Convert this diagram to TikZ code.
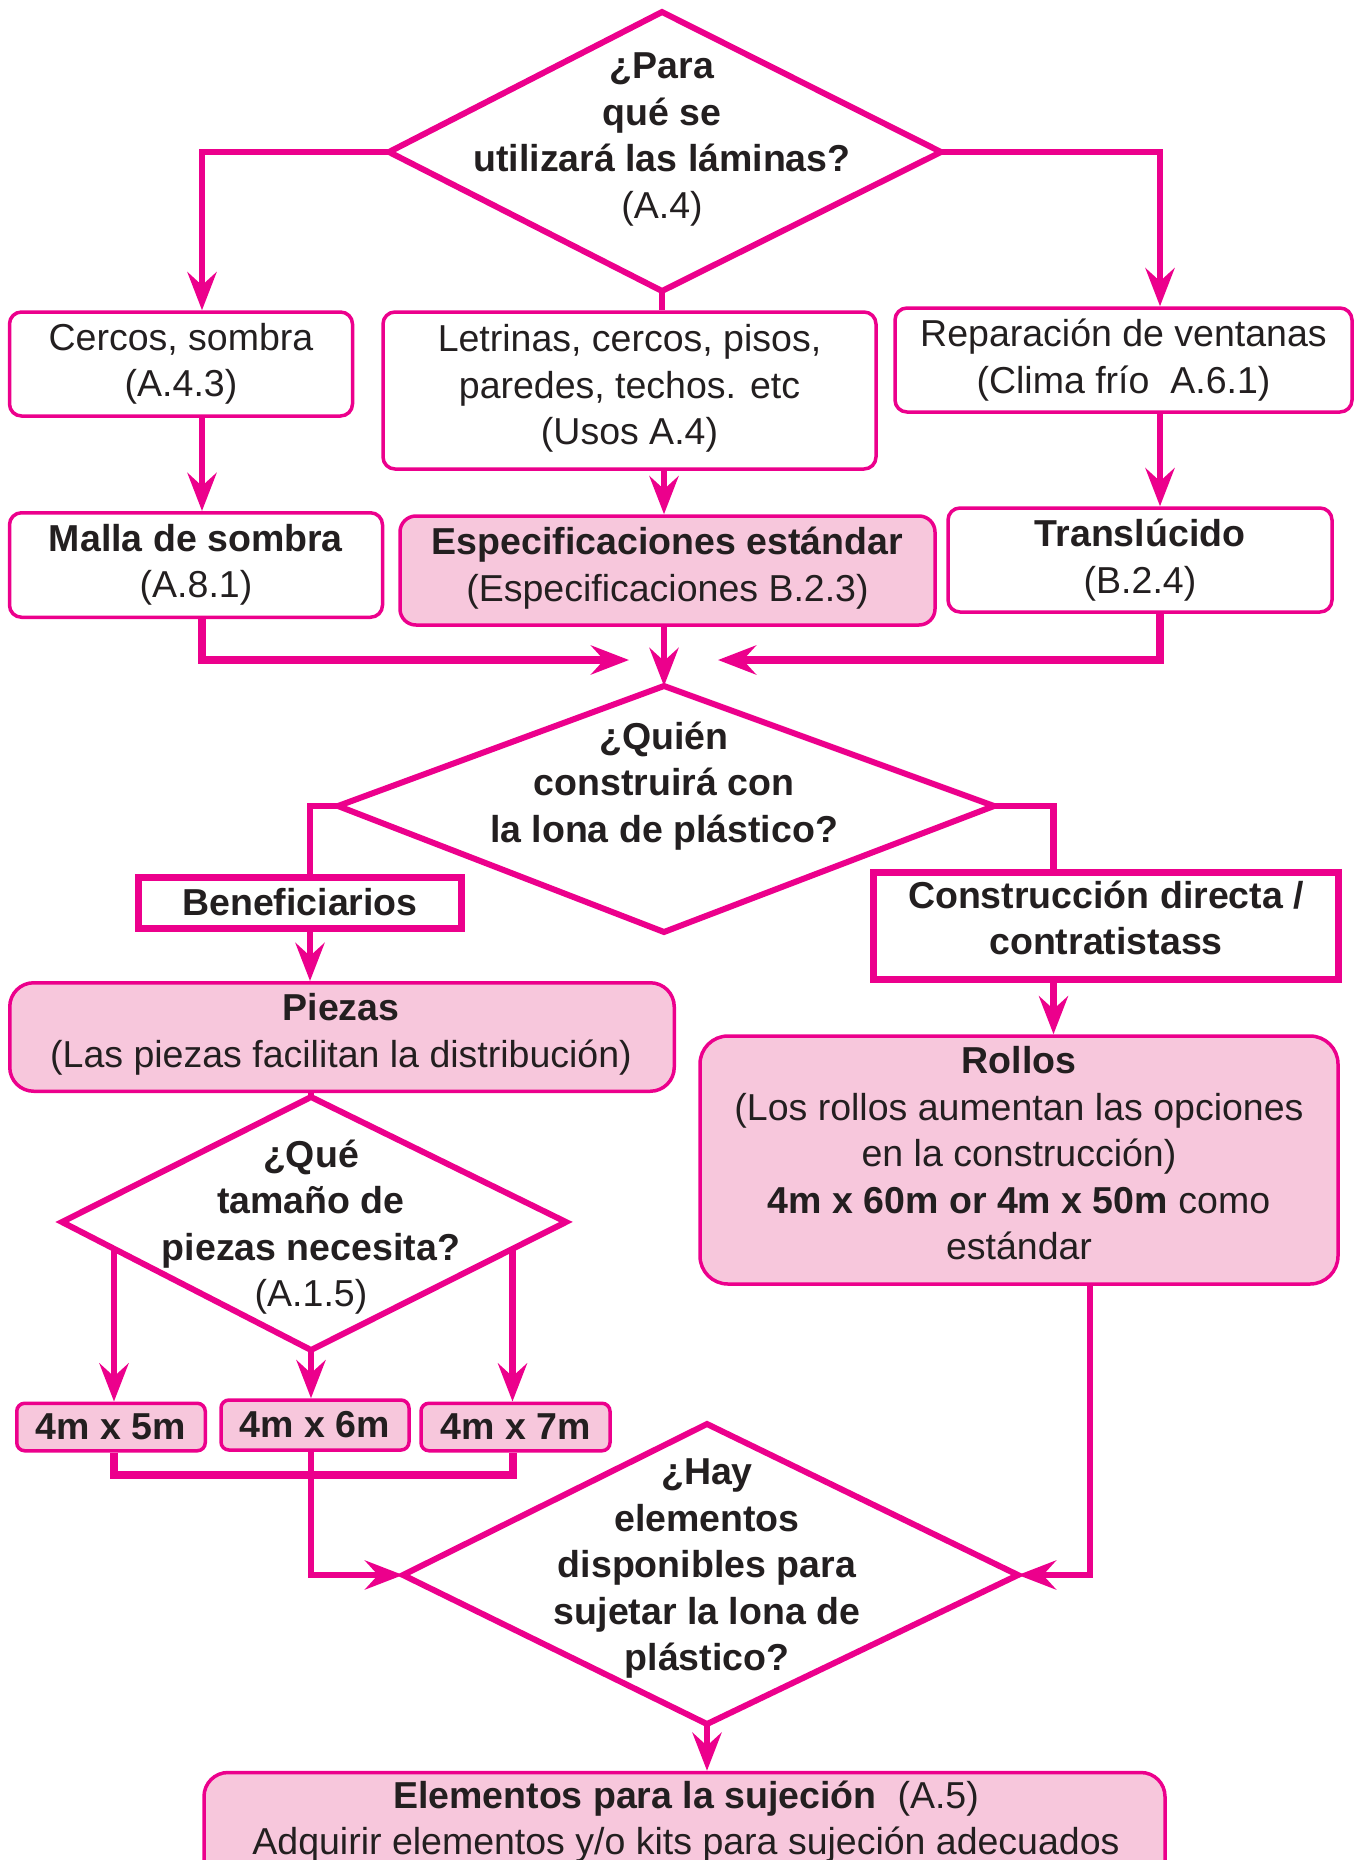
\documentclass[tikz,border=0pt]{standalone}
\usepackage{fontspec}
\setmainfont{Liberation Sans}
\usetikzlibrary{arrows.meta}
\definecolor{mag}{HTML}{EC008C}
\definecolor{pinkfill}{HTML}{F7C7DC}
\definecolor{ink}{HTML}{231F20}
\begin{document}
\begin{tikzpicture}[x=1pt,y=-1pt,
  every node/.style={font=\fontsize{37.5}{46.5}\selectfont, text=ink, align=center, inner sep=0pt},
  wbox/.style={draw=mag, line width=3.5pt, rounded corners=12pt, fill=white},
  pbox/.style={draw=mag, line width=3.5pt, rounded corners=16pt, fill=pinkfill},
  sbox/.style={draw=mag, line width=7pt, fill=white},
  dia/.style={draw=mag, line width=6pt, line join=miter},
  conn/.style={draw=mag, line width=6.5pt},
  arr/.style={conn, -{Stealth[length=38pt,width=29pt,inset=13pt]}},
]
\useasboundingbox (0,0) rectangle (1362,1860);
\clip (0,0) rectangle (1362,1860);

% ---------- diamond 1
\coordinate (d1t) at (662,12);
\coordinate (d1l) at (389,152);
\coordinate (d1r) at (941,152);
\coordinate (d1b) at (662,291);
\draw[dia] (d1t) -- (d1r) -- (d1b) -- (d1l) -- cycle;
\node (q1) at (662,139.5) {\textbf{¿Para}\\\textbf{qué se}\\\textbf{utilizará las láminas?}\\(A.4)};

% ---------- row 1
\node[wbox, minimum width=343pt, minimum height=104pt] (cercos) at (181,364) {Cercos, sombra\\(A.4.3)};
\node[wbox, minimum width=493pt, minimum height=157pt] (letr) at (629.5,390.5) {};
\node (letrtxt) at (629.5,388.5) {Letrinas, cercos, pisos,\\paredes, techos. etc\\(Usos A.4)};
\node[wbox, minimum width=457pt, minimum height=104pt] (repar) at (1123.5,360) {Reparación de ventanas\\(Clima frío\ \ A.6.1)};

% ---------- row 2
\node[wbox, minimum width=373pt, minimum height=104.5pt] (malla) at (196,565) {\textbf{Malla de sombra}\\(A.8.1)};
\node[pbox, minimum width=535pt, minimum height=109pt] (espec) at (667.5,570.5) {};
\node (espectxt) at (667.5,568) {\textbf{Especificaciones estándar}\\(Especificaciones B.2.3)};
\node[wbox, minimum width=384pt, minimum height=104pt] (transl) at (1140,560) {\textbf{Translúcido}\\(B.2.4)};

% ---------- diamond 2
\coordinate (d2t) at (664,686);
\coordinate (d2l) at (338,806);
\coordinate (d2r) at (994,806);
\coordinate (d2b) at (664,932);
\draw[dia] (d2t) -- (d2r) -- (d2b) -- (d2l) -- cycle;
\node (q2) at (664,786) {\textbf{¿Quién}\\\textbf{construirá con}\\\textbf{la lona de plástico?}};

\node[sbox, minimum width=323.5pt, minimum height=51pt] (benef) at (300,902.5) {\textbf{Beneficiarios}};
\node[sbox, minimum width=465pt, minimum height=107pt] (constr) at (1105.5,925.5) {};
\node (constrtxt) at (1106,918) {\textbf{Construcción directa /}\\\textbf{contratistass}};

\node[pbox, rounded corners=24pt, minimum width=664.5pt, minimum height=108.5pt] (piezas) at (342,1037) {};
\node (piezastxt) at (341,1034.5) {\textbf{Piezas}\\(Las piezas facilitan la distribución)};
\node[pbox, rounded corners=28pt, minimum width=638pt, minimum height=248pt] (rollos) at (1019,1160) {};
\node (rollostxt) at (1019,1153.5) {\textbf{Rollos}\\(Los rollos aumentan las opciones\\en la construcción)\\\textbf{4m x 60m or 4m x 50m} como\\estándar};

% ---------- diamond 3
\coordinate (d3t) at (311,1097);
\coordinate (d3l) at (62,1222);
\coordinate (d3r) at (566,1222);
\coordinate (d3b) at (311,1350);
\draw[dia] (d3t) -- (d3r) -- (d3b) -- (d3l) -- cycle;
\node (q3) at (311,1227) {\textbf{¿Qué}\\\textbf{tamaño de}\\\textbf{piezas necesita?}\\(A.1.5)};

\node[pbox, rounded corners=8pt, minimum width=188.5pt, minimum height=47.5pt] (s1) at (111,1427) {\textbf{4m x 5m}};
\node[pbox, rounded corners=8pt, minimum width=188pt, minimum height=50pt] (s2) at (315,1425) {\textbf{4m x 6m}};
\node[pbox, rounded corners=8pt, minimum width=189pt, minimum height=47.5pt] (s3) at (515.5,1427) {\textbf{4m x 7m}};

% ---------- diamond 4
\coordinate (d4t) at (707,1424);
\coordinate (d4l) at (403,1575);
\coordinate (d4r) at (1018,1575);
\coordinate (d4b) at (707,1724);
\draw[dia] (d4t) -- (d4r) -- (d4b) -- (d4l) -- cycle;
\node (q4) at (707,1568.5) {\textbf{¿Hay}\\\textbf{elementos}\\\textbf{disponibles para}\\\textbf{sujetar la lona de}\\\textbf{plástico?}};

\node[pbox, rounded corners=24pt, minimum width=961pt, minimum height=150pt] (elem) at (684.5,1847.5) {};
\node (elemtxt) at (686,1821.5) {\textbf{Elementos para la sujeción}\ \ (A.5)\\Adquirir elementos y/o kits para sujeción adecuados};

% ---------- connectors
\coordinate (c1) at (202,0);
\coordinate (c2) at (664,0);
\coordinate (c3) at (1160,0);
\coordinate (c4) at (310,0);
\coordinate (c5) at (1053.5,0);
\coordinate (c9) at (1090,0);
\coordinate (m1) at (629,660);
\coordinate (m2) at (718,660);

\draw[arr] (d1l) -| (cercos.north -| c1);
\draw[arr] (d1r) -| (repar.north -| c3);
\draw[conn] (d1b) -- (letr.north -| d1b);
\draw[arr] (cercos.south -| c1) -- (malla.north -| c1);
\draw[arr] (letr.south -| c2) -- (espec.north -| c2);
\draw[arr] (repar.south -| c3) -- (transl.north -| c3);
\draw[arr, line width=8pt] (malla.south -| c1) |- (m1);
\draw[arr, line width=8pt] (transl.south -| c3) |- (m2);
\draw[arr] (espec.south -| c2) -- (d2t);

\draw[conn] (d2l) -| (benef.north -| c4);
\draw[conn] (d2r) -| (constr.north -| c5);
\draw[arr] (benef.south -| c4) -- (piezas.north -| c4);
\draw[arr] (constr.south -| c5) -- (rollos.north -| c5);
\draw[conn] (piezas.south -| d3t) -- (d3t);

\coordinate (e3l) at (114,1248.7);
\coordinate (e3r) at (512.5,1248.9);
\draw[arr] (e3l) -- (s1.north -| e3l);
\draw[arr] (d3b) -- (s2.north -| d3b);
\draw[arr] (e3r) -- (s3.north -| e3r);

\coordinate (j1) at (114,1475);
\coordinate (j2) at (512.5,1475);
\draw[conn, line width=8pt] (s1.south -| j1) -- (j1) -- (j2) -- (s3.south -| j2);
\draw[arr] (s2.south -| d3b) |- (d4l);
\draw[arr] (rollos.south -| c9) |- (d4r);
\draw[arr] (d4b) -- (elem.north -| d4b);
\end{tikzpicture}
\end{document}
